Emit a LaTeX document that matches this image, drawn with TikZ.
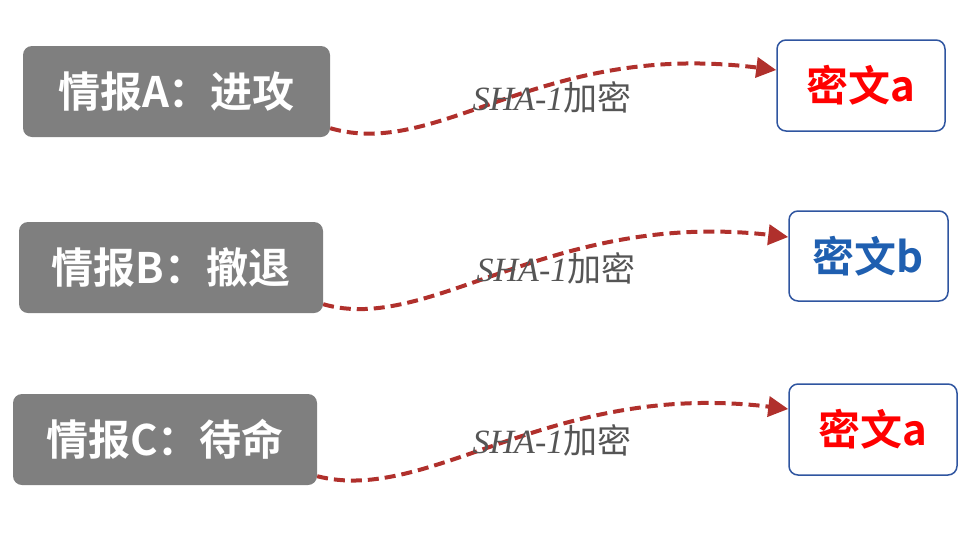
\documentclass[tikz,border=0pt]{standalone}
\usepackage{fontspec}
\setmainfont{Liberation Serif}
\newfontfamily\cjk{Noto Sans CJK SC}[BoldFont={* Bold}]
\usetikzlibrary{arrows.meta}
\definecolor{boxgray}{HTML}{7F7F7F}
\definecolor{arrred}{HTML}{B0302C}
\definecolor{bordblue}{HTML}{2F55A0}
\definecolor{txtblue}{HTML}{1F5FB0}
\definecolor{labgray}{HTML}{555555}
\tikzset{
 src/.style={fill=boxgray,rounded corners=9pt,text=white,font=\cjk\bfseries\fontsize{42}{46}\selectfont,inner sep=0pt},
 dst/.style={draw=bordblue,line width=1.5pt,rounded corners=9pt,font=\cjk\bfseries\fontsize{42}{46}\selectfont,inner sep=0pt},
 flow/.style={arrred,line width=4pt,dash pattern=on 11pt off 6pt,-{Triangle[length=20pt,width=20pt]}},
 lab/.style={text=labgray,font=\itshape\fontsize{34}{38}\selectfont}
}
\begin{document}
\begin{tikzpicture}[x=1pt,y=-1pt]
\useasboundingbox (0,0) rectangle (979,536);
\node[src,minimum width=307pt,minimum height=91pt] (A) at (176.5,91.5) {情报A：进攻};
\node[src,minimum width=304pt,minimum height=91pt] (B) at (171,267.5) {情报B：撤退};
\node[src,minimum width=304pt,minimum height=91pt] (C) at (165,439.5) {情报C：待命};
\node[dst,minimum width=168pt,minimum height=91pt,text=red] (a) at (861,85.5) {密文a};
\node[dst,minimum width=159pt,minimum height=90pt,text=txtblue] (b) at (868.5,256) {密文b};
\node[dst,minimum width=168pt,minimum height=91pt,text=red] (c) at (873,429.5) {密文a};
\draw[flow] ([yshift=9pt]A.south east) .. controls (440,160) and (540,40) .. (a.west |- 0,70);
\draw[flow] ([yshift=9pt]B.south east) .. controls (430,335) and (550,210) .. (b.west |- 0,237);
\draw[flow] ([yshift=9pt]C.south east) .. controls (430,505) and (550,380) .. (c.west |- 0,409);
\node[lab] (la) at (552,97) {SHA-1\cjk 加密};
\node[lab] (lb) at (556,268) {SHA-1\cjk 加密};
\node[lab] (lc) at (552,440) {SHA-1\cjk 加密};
\end{tikzpicture}
\end{document}
